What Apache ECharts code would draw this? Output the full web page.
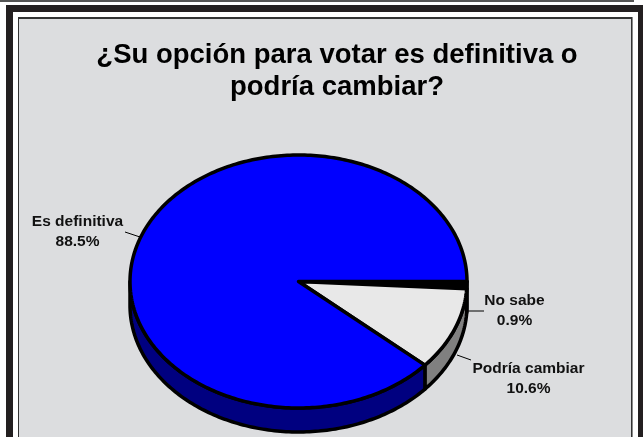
<!DOCTYPE html>
<html><head><meta charset="utf-8">
<style>html,body{margin:0;padding:0;background:#fff}#c{width:643px;height:437px}</style>
<script src="https://cdn.jsdelivr.net/npm/echarts@6/dist/echarts.min.js"></script>
</head><body><div id="c"></div>
<script>
const categories = ['No sabe', 'Podría cambiar', 'Es definitiva'];
const values = [0.9, 10.6, 88.5];
const valueLabels = ['0.9%', '10.6%', '88.5%'];
const topColors = ['#000000', '#E8E8E8', '#0000FF'];
const sideColors = ['#000000', '#808080', '#000080'];
const titleText = '¿Su opción para votar es definitiva o\npodría cambiar?';

const pie = {cx: 298.5, cy: 281.5, rx: 168.5, ry: 126.5, depth: 24};
const labelPos = [
  {x: 514.5, y: 311, line: [[468, 311], [484, 311]]},
  {x: 528.5, y: 379, line: [[457, 355], [471, 360]]},
  {x: 77.5, y: 232, line: [[125, 232], [140, 237]]}
];
const total = values.reduce((a, b) => a + b, 0);
let acc = 0;
const starts = values.map(v => { const s = acc; acc += v; return s; });
const pt = (deg, dy) => [
  pie.cx + pie.rx * Math.cos(deg * Math.PI / 180),
  pie.cy + pie.ry * Math.sin(deg * Math.PI / 180) + (dy || 0)
];
function arc(a0, a1, dy) {
  const n = Math.max(2, Math.ceil((a1 - a0) / 1)), out = [];
  for (let i = 0; i <= n; i++) out.push(pt(a0 + (a1 - a0) * i / n, dy));
  return out;
}
function renderItem(params, api) {
  const i = params.dataIndex;
  const a0 = starts[i] / total * 360, a1 = (starts[i] + api.value(0)) / total * 360;
  const children = [];
  const s0 = Math.min(a0, 180), s1 = Math.min(a1, 180);
  if (s1 > s0) {
    children.push({type: 'polygon', z2: 1,
      shape: {points: arc(s0, s1, 0).concat(arc(s0, s1, pie.depth).reverse())},
      style: {fill: sideColors[i], stroke: '#000', lineWidth: 3.5, lineJoin: 'round'}});
  }
  children.push({type: 'polygon', z2: 2,
    shape: {points: [[pie.cx, pie.cy]].concat(arc(a0, a1, 0))},
    style: {fill: topColors[i], stroke: '#000', lineWidth: 3.5, lineJoin: 'round'}});
  const p = labelPos[i];
  children.push({type: 'line', z2: 3,
    shape: {x1: p.line[0][0], y1: p.line[0][1], x2: p.line[1][0], y2: p.line[1][1]},
    style: {stroke: '#000', lineWidth: 1}});
  children.push({type: 'text', z2: 4,
    style: {x: p.x, y: p.y, text: categories[i] + '\n' + valueLabels[i],
      textAlign: 'center', textVerticalAlign: 'middle',
      font: 'bold 15.5px "Liberation Sans", Arial, sans-serif', lineHeight: 20, fill: '#111'}});
  return {type: 'group', children};
}
const rect = (x, y, w, h, fill, z) => ({type: 'rect', silent: true, z: z || 0,
  shape: {x, y, width: w, height: h}, style: {fill}});
const chart = echarts.init(document.getElementById('c'), null, {renderer: 'canvas'});
chart.setOption({
  animation: false,
  backgroundColor: '#fff',
  title: {text: titleText, left: 332, top: 34, textAlign: 'center',
    textStyle: {fontFamily: '"Liberation Sans", Arial, sans-serif', fontWeight: 'bold',
      fontSize: 27.5, lineHeight: 32, color: '#000'}},
  graphic: [
    rect(0, 0, 634, 2, '#555'),
    rect(6, 5, 637, 7, '#231F20'),
    rect(6, 5, 7, 432, '#231F20'),
    rect(638, 5, 5, 432, '#231F20'),
    rect(18, 17, 615, 420, '#8A8A8A'),
    rect(18, 17, 614, 420, '#333'),
    rect(19, 19, 612, 418, '#DCDDDF')
  ],
  series: [{
    type: 'custom', coordinateSystem: 'none', name: 'Voto',
    encode: {value: 0, itemName: 1},
    data: values.map((v, i) => ({name: categories[i], value: [v]})),
    renderItem, z: 5
  }]
});
</script></body></html>
